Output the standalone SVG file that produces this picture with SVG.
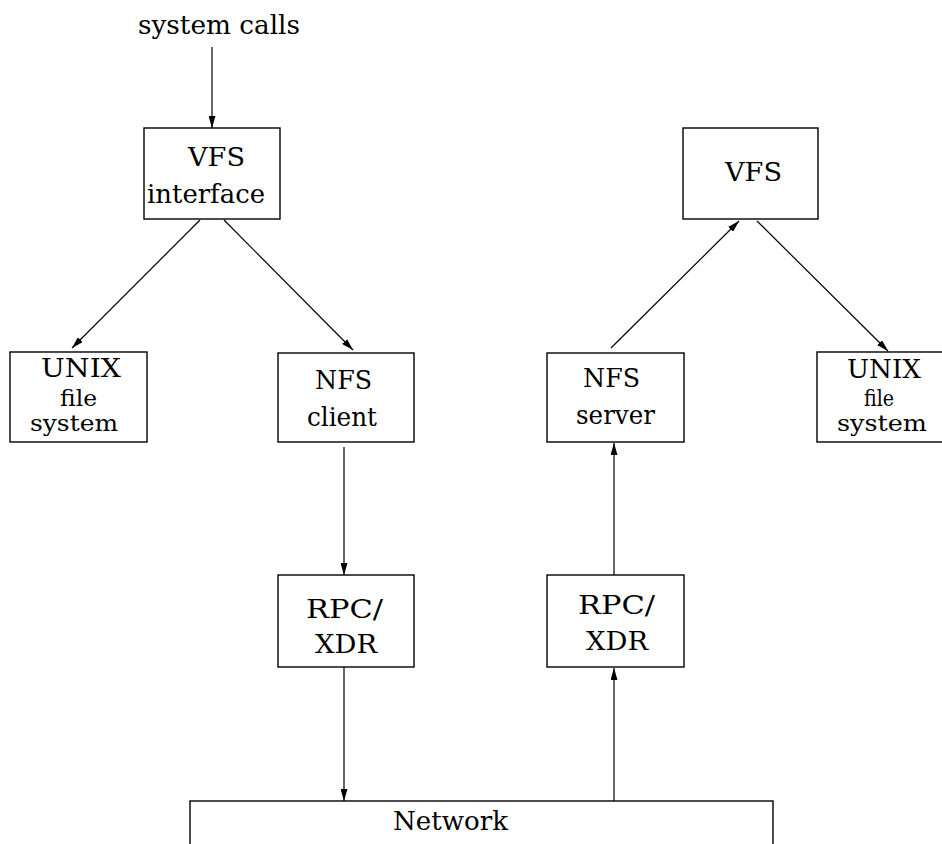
<svg xmlns="http://www.w3.org/2000/svg" width="942" height="844" viewBox="0 0 942 844">
  <style>
    .box { fill: none; stroke: #000; stroke-width: 1.4; }
    .edge { fill: none; stroke: #000; stroke-width: 1.2; marker-end: url(#arrow); }
    .lbl { font-size: 26px; fill: #000; }
    .tight { font-size: 23px; }
  </style>
  <defs>
    <marker id="arrow" viewBox="0 0 12 7" refX="12" refY="3.5" markerWidth="12" markerHeight="7" markerUnits="userSpaceOnUse" orient="auto">
      <path d="M0,0 L12,3.5 L0,7 z" fill="#000"/>
    </marker>
  </defs>
  <rect width="942" height="844" fill="#fff"/>

  <g font-family="DejaVu Serif, serif">
  <g id="syscalls">
    <text class="lbl" x="138" y="34" textLength="162" lengthAdjust="spacingAndGlyphs">system calls</text>
  </g>

  <g id="vfs-interface">
    <rect class="box" x="144" y="128" width="136" height="91"/>
    <text class="lbl" x="188" y="166" textLength="57" lengthAdjust="spacingAndGlyphs">VFS</text>
    <text class="lbl" x="147" y="203" textLength="118" lengthAdjust="spacingAndGlyphs">interface</text>
  </g>

  <g id="unix-left">
    <rect class="box" x="10" y="352" width="137" height="90"/>
    <text class="lbl" x="41" y="377" textLength="80" lengthAdjust="spacingAndGlyphs">UNIX</text>
    <text class="lbl tight" x="60" y="406" textLength="37" lengthAdjust="spacingAndGlyphs">file</text>
    <text class="lbl tight" x="30" y="431" textLength="88" lengthAdjust="spacingAndGlyphs">system</text>
  </g>

  <g id="nfs-client">
    <rect class="box" x="278" y="353" width="136" height="89"/>
    <text class="lbl" x="315" y="389" textLength="57" lengthAdjust="spacingAndGlyphs">NFS</text>
    <text class="lbl" x="307" y="426" textLength="70" lengthAdjust="spacingAndGlyphs">client</text>
  </g>

  <g id="rpc-left">
    <rect class="box" x="278" y="575" width="136" height="92"/>
    <text class="lbl" x="306" y="618" textLength="77" lengthAdjust="spacingAndGlyphs">RPC/</text>
    <text class="lbl" x="315" y="653" textLength="62" lengthAdjust="spacingAndGlyphs">XDR</text>
  </g>

  <g id="vfs-right">
    <rect class="box" x="683" y="128" width="135" height="91"/>
    <text class="lbl" x="725" y="181" textLength="57" lengthAdjust="spacingAndGlyphs">VFS</text>
  </g>

  <g id="nfs-server">
    <rect class="box" x="547" y="353" width="137" height="89"/>
    <text class="lbl" x="583" y="387" textLength="57" lengthAdjust="spacingAndGlyphs">NFS</text>
    <text class="lbl" x="576" y="424" textLength="79" lengthAdjust="spacingAndGlyphs">server</text>
  </g>

  <g id="unix-right">
    <rect class="box" x="817" y="352" width="140" height="90"/>
    <text class="lbl" x="847" y="378" textLength="74" lengthAdjust="spacingAndGlyphs">UNIX</text>
    <text class="lbl tight" x="864" y="406" textLength="30" lengthAdjust="spacingAndGlyphs">file</text>
    <text class="lbl tight" x="837" y="431" textLength="90" lengthAdjust="spacingAndGlyphs">system</text>
  </g>

  <g id="rpc-right">
    <rect class="box" x="547" y="575" width="137" height="92"/>
    <text class="lbl" x="578" y="614" textLength="77" lengthAdjust="spacingAndGlyphs">RPC/</text>
    <text class="lbl" x="586" y="650" textLength="62" lengthAdjust="spacingAndGlyphs">XDR</text>
  </g>

  <g id="network">
    <rect class="box" x="190" y="801" width="583" height="60"/>
    <text class="lbl" x="393" y="830" textLength="115" lengthAdjust="spacingAndGlyphs">Network</text>
  </g>
  </g>

  <g id="connectors">
    <line class="edge" x1="212" y1="47" x2="212" y2="128"/>
    <line class="edge" x1="200" y1="220" x2="72" y2="348"/>
    <line class="edge" x1="224" y1="220" x2="353" y2="350"/>
    <line class="edge" x1="344" y1="447" x2="344" y2="575"/>
    <line class="edge" x1="344" y1="667" x2="344" y2="801"/>
    <line class="edge" x1="614" y1="801" x2="614" y2="668"/>
    <line class="edge" x1="614" y1="575" x2="614" y2="443"/>
    <line class="edge" x1="611" y1="348" x2="739" y2="221"/>
    <line class="edge" x1="757" y1="221" x2="888" y2="351"/>
  </g>
</svg>
